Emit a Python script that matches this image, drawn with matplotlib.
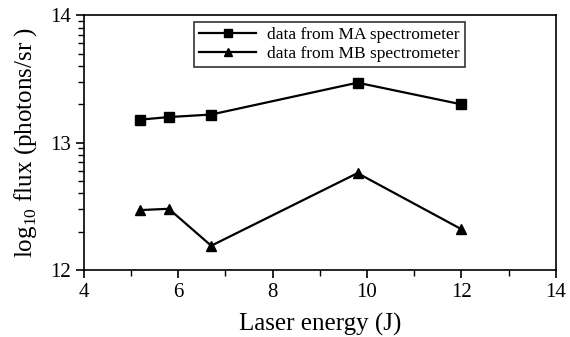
import numpy as np
import matplotlib
matplotlib.use("Agg")
import matplotlib.pyplot as plt
from matplotlib.ticker import FixedLocator

plt.rcParams['font.family'] = ['Liberation Serif', 'DejaVu Serif']
plt.rcParams['mathtext.fontset'] = 'custom'
plt.rcParams['mathtext.rm'] = 'Liberation Serif'

energy_ma = [5.2, 5.8, 6.7, 9.8, 12.0]
flux_ma = [13.18, 13.20, 13.22, 13.47, 13.30]
energy_mb = [5.2, 5.8, 6.7, 9.8, 12.0]
flux_mb = [12.47, 12.48, 12.19, 12.76, 12.32]
label_ma = "data from MA spectrometer"
label_mb = "data from MB spectrometer"
xticks = [4, 6, 8, 10, 12, 14]
yticks = [12, 13, 14]

fig = plt.figure(figsize=(5.7, 3.37), dpi=100)
ax = fig.add_axes([0.147, 0.199, 0.828, 0.756])

ax.plot(energy_ma, flux_ma, color='black', lw=1.6, marker='s', ms=7,
        label=label_ma)
ax.plot(energy_mb, flux_mb, color='black', lw=1.6, marker='^', ms=7,
        label=label_mb)

ax.set_xlim(4, 14)
ax.set_ylim(12, 14)
ax.set_xticks(xticks)
ax.set_yticks(yticks)
ax.xaxis.set_minor_locator(FixedLocator([5, 7, 9, 11, 13]))
yminor = [d + np.log10(k) for d in (12, 13) for k in range(2, 10)]
ax.yaxis.set_minor_locator(FixedLocator(yminor))
ax.tick_params(axis='both', which='major', direction='out', length=6,
               width=1.2, labelsize=15)
ax.tick_params(axis='both', which='minor', direction='out', length=4,
               width=1.0)
for s in ax.spines.values():
    s.set_linewidth(1.2)

ax.set_xlabel("Laser energy (J)", fontsize=18, labelpad=8)
ax.set_ylabel("log$_{10}$ flux (photons/sr )", fontsize=18, labelpad=8)

leg = ax.legend(loc='upper right', bbox_to_anchor=(0.807, 0.975),
                borderaxespad=0.0,
                fontsize=12.5, handlelength=3.3, handletextpad=0.6,
                markerscale=0.75, frameon=True,
                fancybox=False, edgecolor='black', borderpad=0.3,
                labelspacing=0.15)
leg.get_frame().set_linewidth(1.2)

fig.savefig("out.png", dpi=100)
